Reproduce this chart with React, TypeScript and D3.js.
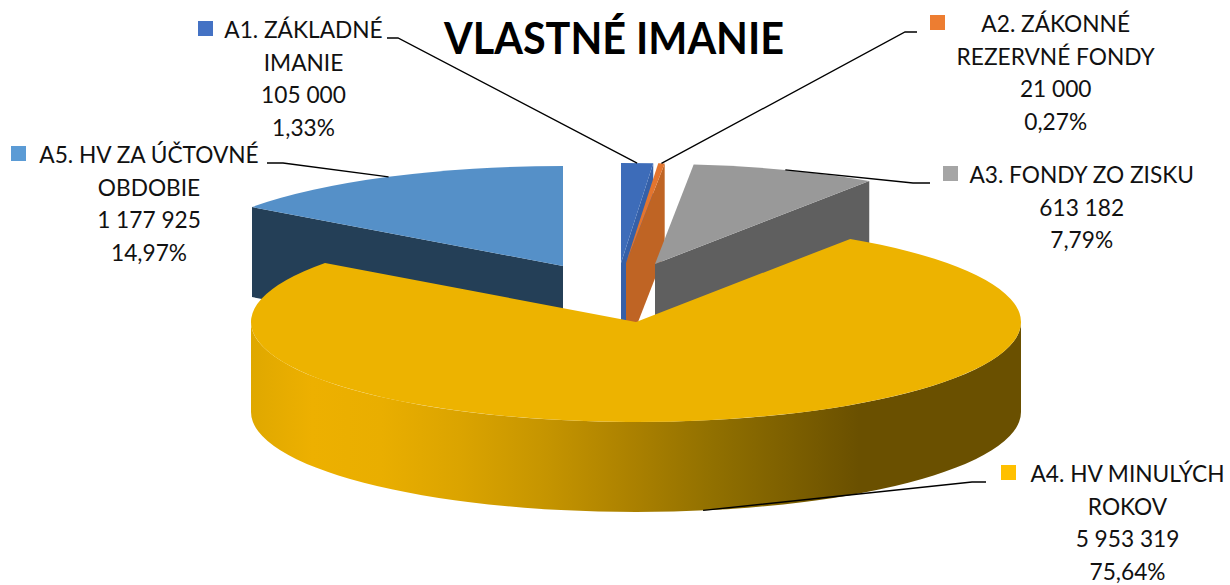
import React from 'react';
import * as d3 from 'd3';

const categories = [
  ['A1. ZÁKLADNÉ', 'IMANIE'],
  ['A2. ZÁKONNÉ', 'REZERVNÉ FONDY'],
  ['A3. FONDY ZO ZISKU'],
  ['A4. HV MINULÝCH', 'ROKOV'],
  ['A5. HV ZA ÚČTOVNÉ', 'OBDOBIE'],
];
const values = [105000, 21000, 613182, 5953319, 1177925];
const valueLabels = ['105 000', '21 000', '613 182', '5 953 319', '1 177 925'];
const percentLabels = ['1,33%', '0,27%', '7,79%', '75,64%', '14,97%'];

const topColors = ['#3d6cb9', '#e4752e', '#999999', '#edb300', '#5590c8'];
const sideColors = ['#3560a8', '#bf6424', '#5f5f5f', '#6a5000', '#243f57'];
const keyColors = ['#4472c4', '#ed7d31', '#a5a5a5', '#ffc000', '#5b9bd5'];

// exploded apex of every slice
const apexX = [621, 626, 655, 636, 563];
const apexY = [263, 263, 264, 322, 266];

// legend key + first text line position, then leader elbow
const labelX = [303.5, 1055.7, 1081.7, 1127.5, 149];
const labelY = [38, 32, 183, 482, 163];
const keyX = [198, 930, 943, 1001, 11];
const elbowX = [[387, 398], [917, 905], [930, 913], [986, 972], [267, 283]];

const RX = 385;
const RY = 100;
const DEPTH = 90;
const LINE = 32.6;
const FONT = 'Lato, "Open Sans", sans-serif';

const wallStops: [number, string][] = [
  [0, '#dfa800'],
  [0.08, '#edb000'],
  [0.17, '#e9ae00'],
  [0.27, '#dba400'],
  [0.38, '#c69500'],
  [0.5, '#aa8000'],
  [0.6, '#917000'],
  [0.79, '#6a5000'],
  [1, '#6a5000'],
];

export default function App() {
  const pie = d3.pie<number>().sort(null).startAngle(0).endAngle(2 * Math.PI);
  const slices = pie(values);
  const arc = d3.arc<d3.PieArcDatum<number>>().innerRadius(0).outerRadius(RX);

  const sx = (i: number, a: number) => apexX[i] + RX * Math.sin(a);
  const sy = (i: number, a: number) => apexY[i] - RY * Math.cos(a);

  // cut face between the apex and the rim at angle a
  const cutFace = (i: number, a: number) => {
    const p = d3.path();
    p.moveTo(apexX[i], apexY[i]);
    p.lineTo(sx(i, a), sy(i, a));
    p.lineTo(sx(i, a), sy(i, a) + DEPTH);
    p.lineTo(apexX[i], apexY[i] + DEPTH);
    p.closePath();
    return p.toString();
  };

  const goldWall = () => {
    const l = apexX[3] - RX;
    const r = apexX[3] + RX;
    const y = apexY[3];
    return `M${l},${y}A${RX},${RY} 0 0 0 ${r},${y}L${r},${y + DEPTH}A${RX},${RY} 0 0 1 ${l},${y + DEPTH}Z`;
  };

  const leader = (i: number) => {
    const s = slices[i];
    const mid = (s.startAngle + s.endAngle) / 2;
    const x = sx(i, mid);
    // A4 has its leader on the lower rim of the wall
    const y = sy(i, mid) + (i === 3 ? DEPTH : 0);
    return d3.line()([
      [elbowX[i][0], labelY[i]],
      [elbowX[i][1], labelY[i]],
      [x, y],
    ]) as string;
  };

  const slice = (i: number, face: number) => (
    <g key={i}>
      <path d={cutFace(i, face)} fill={sideColors[i]} />
      <path
        d={arc(slices[i]) as string}
        fill={topColors[i]}
        transform={`translate(${apexX[i]},${apexY[i]}) scale(1,${RY / RX})`}
      />
    </g>
  );

  return (
    <svg
      width={1230}
      height={585}
      style={{ position: 'absolute', left: 0, top: 0, background: '#fff' }}
      fontFamily={FONT}
    >
      <defs>
        <linearGradient id="goldWall" x1="0" x2="1" y1="0" y2="0">
          {wallStops.map(([o, c]) => (
            <stop key={o} offset={o} stopColor={c} />
          ))}
        </linearGradient>
      </defs>

      {slice(4, slices[4].startAngle)}
      {slice(0, slices[0].endAngle)}
      {slice(1, slices[1].endAngle)}
      {slice(2, slices[2].endAngle)}

      <path d={goldWall()} fill="url(#goldWall)" />
      <path
        d={arc(slices[3]) as string}
        fill={topColors[3]}
        transform={`translate(${apexX[3]},${apexY[3]}) scale(1,${RY / RX})`}
      />

      {values.map((_, i) => (
        <path key={i} d={leader(i)} fill="none" stroke="#000" strokeWidth={1.3} />
      ))}

      <text
        x={614}
        y={54}
        textAnchor="middle"
        fontSize={43}
        fontWeight={700}
        fill="#000"
        textLength={340}
        lengthAdjust="spacingAndGlyphs"
      >
        VLASTNÉ IMANIE
      </text>

      {categories.map((lines, i) => {
        const rows = [...lines, valueLabels[i], percentLabels[i]];
        return (
          <g key={i}>
            <rect x={keyX[i]} y={labelY[i] - 17} width={15} height={15} fill={keyColors[i]} />
            <text fontSize={22.7} fill="#111" textAnchor="middle">
              {rows.map((r, j) => (
                <tspan key={j} x={labelX[i]} y={labelY[i] + j * LINE}>
                  {r}
                </tspan>
              ))}
            </text>
          </g>
        );
      })}
    </svg>
  );
}
